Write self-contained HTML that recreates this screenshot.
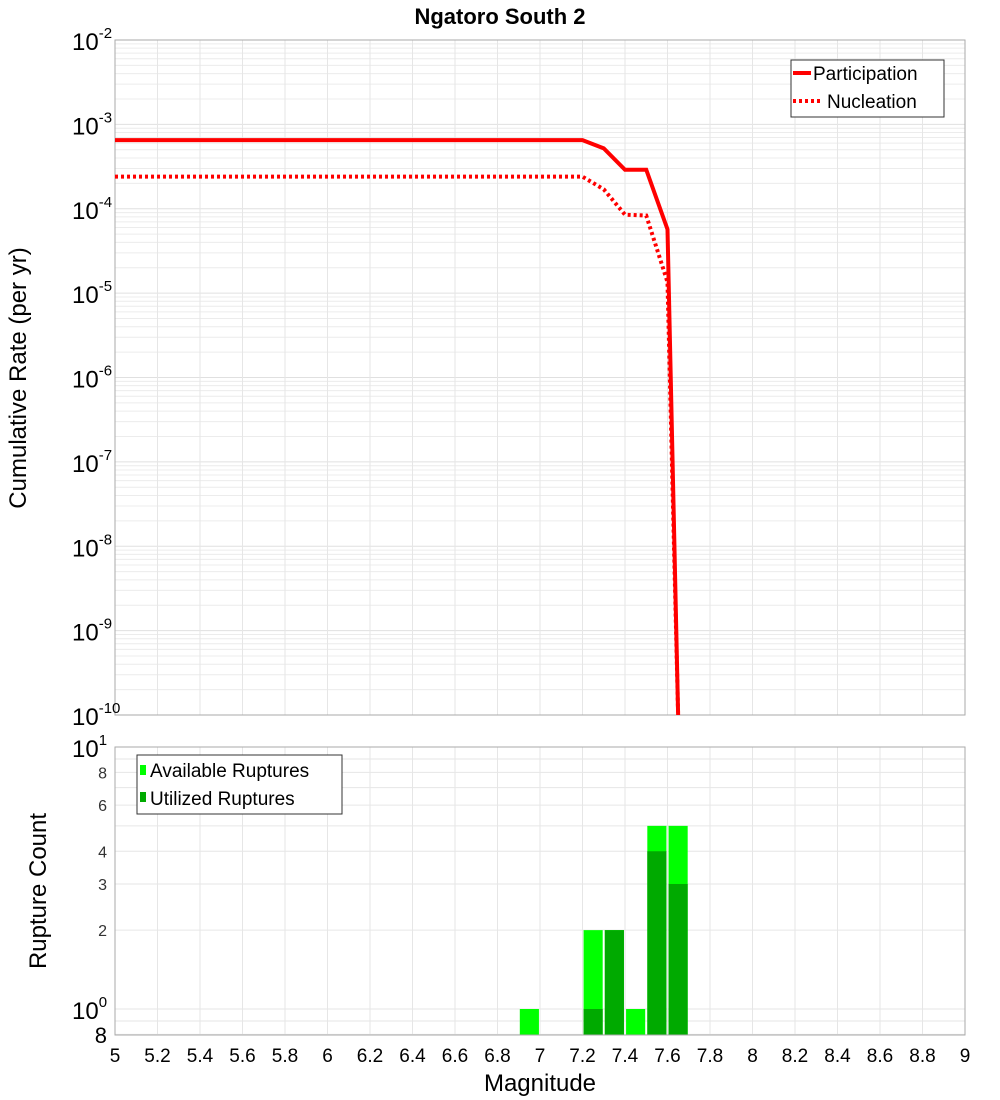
<!DOCTYPE html>
<html><head><meta charset="utf-8"><style>
body{margin:0;background:#fff;}
svg{display:block;font-family:"Liberation Sans","DejaVu Sans",sans-serif;}
</style></head><body>
<svg id="c" width="1000" height="1100" xmlns="http://www.w3.org/2000/svg">
<text x="500" y="24" text-anchor="middle" font-size="22" font-weight="bold">Ngatoro South 2</text>
<g id="top"></g><g id="bot"></g>
<text transform="translate(26,378) rotate(-90)" text-anchor="middle" font-size="24">Cumulative Rate (per yr)</text>
<text transform="translate(46,891) rotate(-90)" text-anchor="middle" font-size="24">Rupture Count</text>
<text x="540" y="1091" text-anchor="middle" font-size="24">Magnitude</text>
</svg>
<script>
const partMags=[5.0,5.1,5.2,5.3,5.4,5.5,5.6,5.7,5.8,5.9,6.0,6.1,6.2,6.3,6.4,6.5,6.6,6.7,6.8,6.9,7.0,7.1,7.2,7.3,7.4,7.5,7.6,7.65];
const partRates=[6.5e-4,6.5e-4,6.5e-4,6.5e-4,6.5e-4,6.5e-4,6.5e-4,6.5e-4,6.5e-4,6.5e-4,6.5e-4,6.5e-4,6.5e-4,6.5e-4,6.5e-4,6.5e-4,6.5e-4,6.5e-4,6.5e-4,6.5e-4,6.5e-4,6.5e-4,6.5e-4,5.2e-4,2.9e-4,2.9e-4,5.7e-5,1e-10];
const nuclRates=[2.4e-4,2.4e-4,2.4e-4,2.4e-4,2.4e-4,2.4e-4,2.4e-4,2.4e-4,2.4e-4,2.4e-4,2.4e-4,2.4e-4,2.4e-4,2.4e-4,2.4e-4,2.4e-4,2.4e-4,2.4e-4,2.4e-4,2.4e-4,2.4e-4,2.4e-4,2.4e-4,1.7e-4,8.5e-5,8.3e-5,1.35e-5,1e-10];
const barMags=[6.9,7.2,7.3,7.4,7.5,7.6];
const availCounts=[1,2,2,1,5,5];
const utilCounts=[0,1,2,0,4,3];
const xTicks=[5,5.2,5.4,5.6,5.8,6,6.2,6.4,6.6,6.8,7,7.2,7.4,7.6,7.8,8,8.2,8.4,8.6,8.8,9];
const NS="http://www.w3.org/2000/svg";
const X0=115,X1=965,T0=40,T1=715,B0=747,B1=1035;
const xs=m=>X0+(m-5)/4*(X1-X0);
const yTop=v=>T0+(-2-Math.log10(v))/8*(T1-T0);
const yBot=v=>1009-Math.log10(v)*262;
function mk(p,tag,at){const e=document.createElementNS(NS,tag);for(const k in at)e.setAttribute(k,at[k]);p.appendChild(e);return e;}
const gTop=document.getElementById('top'),gBot=document.getElementById('bot');
for(let d=-10;d<-2;d++)for(let k=1;k<10;k++){const y=yTop(k*Math.pow(10,d));const l=mk(gTop,'line',{x1:X0,x2:X1,y1:y,y2:y,stroke:k==1?'#e0e0e0':'#ececec','stroke-width':1});

}
xTicks.forEach(t=>{const x=xs(t);const l=mk(gTop,'line',{x1:x,x2:x,y1:T0,y2:T1,stroke:'#e6e6e6'});


const l2=mk(gBot,'line',{x1:x,x2:x,y1:B0,y2:B1,stroke:'#e6e6e6'});


const tx=mk(gBot,'text',{x:x,y:1062,'text-anchor':'middle','font-size':19});tx.textContent=String(t);

});
mk(gTop,'rect',{x:X0,y:T0,width:X1-X0,height:T1-T0,fill:'none',stroke:'#aaa'});
for(let d=-10;d<=-2;d++){const y=yTop(Math.pow(10,d));const t=mk(gTop,'text',{x:72,y:y+10,'font-size':24});


t.innerHTML='10<tspan dy="-12" font-size="15">'+d+'</tspan>';}
function line(rates,dash,name){const pts=partMags.map((m,i)=>xs(m)+','+yTop(rates[i])).join(' ');
const p=mk(gTop,'polyline',{points:pts,fill:'none',stroke:'#ff0000','stroke-width':4});if(dash)p.setAttribute('stroke-dasharray','3,3');

}
line(nuclRates,true,'nucleation-line');line(partRates,false,'participation-line');
const lg=mk(gTop,'g',{});


mk(lg,'rect',{x:791,y:60,width:153,height:57,fill:'#fff',stroke:'#333'});
mk(lg,'line',{x1:793,x2:811,y1:73,y2:73,stroke:'#f00','stroke-width':4});
mk(lg,'line',{x1:793,x2:823,y1:101,y2:101,stroke:'#f00','stroke-width':4,'stroke-dasharray':'3,3'});
let t1=mk(lg,'text',{x:813,y:80,'font-size':19});t1.textContent='Participation';
let t2=mk(lg,'text',{x:827,y:108,'font-size':19});t2.textContent='Nucleation';
[0.8,0.9,1,2,3,4,5,6,7,8,9].forEach(v=>{const y=yBot(v);const l=mk(gBot,'line',{x1:X0,x2:X1,y1:y,y2:y,stroke:'#e6e6e6'});

});
barMags.forEach((m,i)=>{const x=xs(m+0.005),w=xs(m+0.095)-x;
const a=mk(gBot,'rect',{x:x,y:yBot(availCounts[i]),width:w,height:B1-yBot(availCounts[i]),fill:'#00ff00'});


if(utilCounts[i]>0){const u=mk(gBot,'rect',{x:x,y:yBot(utilCounts[i]),width:w,height:B1-yBot(utilCounts[i]),fill:'#00aa00'});

}});
mk(gBot,'rect',{x:X0,y:B0,width:X1-X0,height:B1-B0,fill:'none',stroke:'#aaa'});
[[2,'2'],[3,'3'],[4,'4'],[6,'6'],[8,'8']].forEach(([v,s])=>{const t=mk(gBot,'text',{x:107,y:yBot(v)+6,'text-anchor':'end','font-size':16,fill:'#333'});t.textContent=s;

});
[[1,'0'],[10,'1']].forEach(([v,s])=>{const t=mk(gBot,'text',{x:72,y:yBot(v)+10,'font-size':24});t.innerHTML='10<tspan dy="-12" font-size="15">'+s+'</tspan>';

});
let t8=mk(gBot,'text',{x:107,y:1043,'text-anchor':'end','font-size':22});t8.textContent='8';


const bl=mk(gBot,'g',{});


mk(bl,'rect',{x:137,y:755,width:205,height:59,fill:'#fff',stroke:'#333'});
mk(bl,'rect',{x:140,y:765,width:6,height:10,fill:'#00ff00'});
mk(bl,'rect',{x:140,y:792,width:6,height:10,fill:'#00aa00'});
let t3=mk(bl,'text',{x:150,y:777,'font-size':19});t3.textContent='Available Ruptures';
let t4=mk(bl,'text',{x:150,y:805,'font-size':19});t4.textContent='Utilized Ruptures';
</script>
</body></html>
